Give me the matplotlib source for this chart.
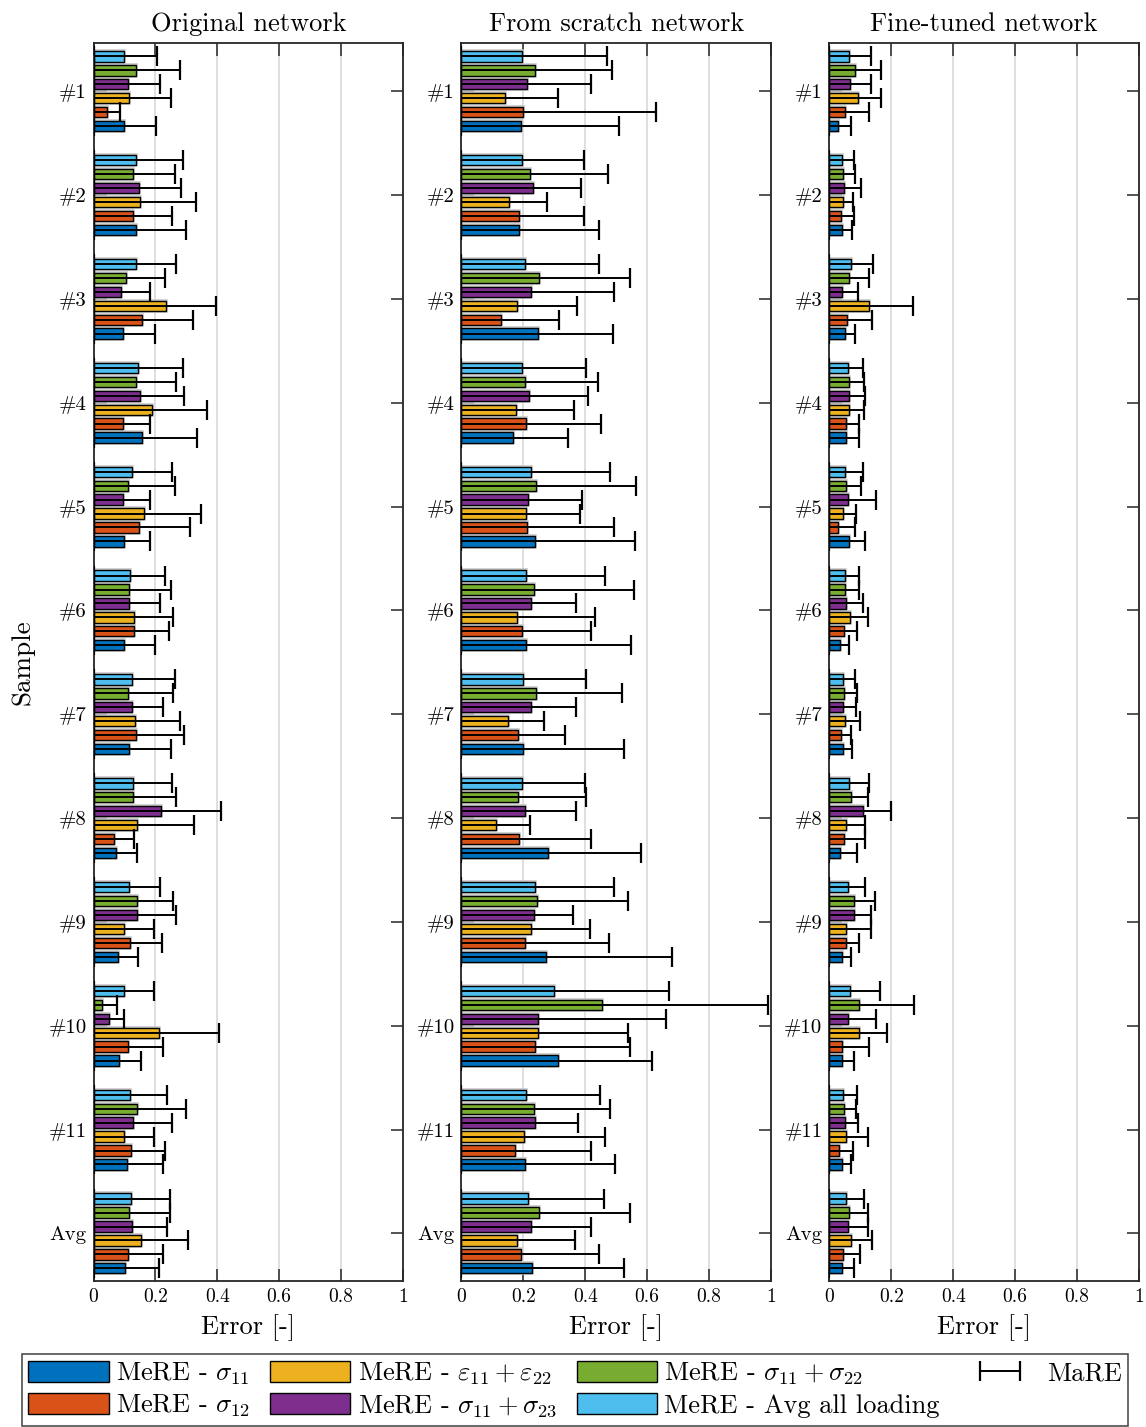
import numpy as np
import matplotlib
import matplotlib.pyplot as plt
from matplotlib.container import ErrorbarContainer
from matplotlib.legend_handler import HandlerErrorbar

plt.rcParams['font.family'] = 'serif'
plt.rcParams['font.serif'] = ['cmr10']
plt.rcParams['mathtext.fontset'] = 'cm'
plt.rcParams['axes.formatter.use_mathtext'] = True

samples = ['#1', '#2', '#3', '#4', '#5', '#6', '#7', '#8', '#9', '#10', '#11', 'Avg']
titles = ['Original network', 'From scratch network', 'Fine-tuned network']
series = [r'MeRE - $\sigma_{11}$', r'MeRE - $\sigma_{12}$',
          r'MeRE - $\varepsilon_{11}+\varepsilon_{22}$', r'MeRE - $\sigma_{11}+\sigma_{23}$',
          r'MeRE - $\sigma_{11}+\sigma_{22}$', 'MeRE - Avg all loading']
colors = ['#0072BD', '#D95319', '#EDB120', '#7E2F8E', '#77AC30', '#4DBEEE']

# mean relative error, one row per loading case, one column per sample
mere_orig = np.array([
    [0.097, 0.138, 0.095, 0.156, 0.097, 0.098, 0.116, 0.073, 0.079, 0.081, 0.108, 0.103],
    [0.044, 0.127, 0.157, 0.095, 0.146, 0.131, 0.137, 0.066, 0.117, 0.111, 0.120, 0.113],
    [0.115, 0.151, 0.233, 0.188, 0.162, 0.131, 0.135, 0.142, 0.100, 0.212, 0.098, 0.152],
    [0.111, 0.146, 0.088, 0.149, 0.095, 0.116, 0.124, 0.218, 0.139, 0.051, 0.128, 0.124],
    [0.138, 0.126, 0.104, 0.138, 0.113, 0.116, 0.111, 0.128, 0.139, 0.028, 0.140, 0.116],
    [0.100, 0.138, 0.136, 0.145, 0.123, 0.118, 0.125, 0.126, 0.114, 0.097, 0.118, 0.122],
])
mare_orig = np.array([
    [0.203, 0.300, 0.199, 0.334, 0.182, 0.200, 0.249, 0.141, 0.145, 0.152, 0.223, 0.213],
    [0.086, 0.255, 0.323, 0.184, 0.313, 0.243, 0.291, 0.132, 0.220, 0.223, 0.232, 0.226],
    [0.249, 0.330, 0.397, 0.368, 0.346, 0.258, 0.281, 0.326, 0.194, 0.407, 0.194, 0.305],
    [0.216, 0.283, 0.181, 0.291, 0.181, 0.214, 0.226, 0.412, 0.265, 0.100, 0.255, 0.238],
    [0.278, 0.264, 0.232, 0.268, 0.262, 0.249, 0.258, 0.265, 0.258, 0.076, 0.300, 0.246],
    [0.206, 0.288, 0.265, 0.288, 0.255, 0.232, 0.262, 0.255, 0.216, 0.194, 0.239, 0.246],
])

mere_scratch = np.array([
    [0.192, 0.187, 0.248, 0.168, 0.237, 0.210, 0.200, 0.280, 0.274, 0.312, 0.205, 0.228],
    [0.198, 0.187, 0.128, 0.208, 0.212, 0.195, 0.184, 0.187, 0.205, 0.239, 0.174, 0.192],
    [0.139, 0.152, 0.179, 0.176, 0.208, 0.179, 0.150, 0.112, 0.225, 0.248, 0.201, 0.179],
    [0.212, 0.231, 0.224, 0.219, 0.215, 0.226, 0.226, 0.206, 0.234, 0.248, 0.236, 0.225],
    [0.236, 0.221, 0.251, 0.204, 0.241, 0.235, 0.241, 0.182, 0.243, 0.454, 0.235, 0.250],
    [0.196, 0.196, 0.205, 0.196, 0.223, 0.209, 0.200, 0.194, 0.236, 0.299, 0.210, 0.214],
])
mare_scratch = np.array([
    [0.509, 0.444, 0.490, 0.344, 0.561, 0.547, 0.525, 0.579, 0.681, 0.616, 0.496, 0.525],
    [0.629, 0.396, 0.315, 0.450, 0.493, 0.418, 0.334, 0.418, 0.477, 0.545, 0.418, 0.444],
    [0.311, 0.276, 0.374, 0.363, 0.383, 0.431, 0.268, 0.221, 0.415, 0.538, 0.464, 0.366],
    [0.418, 0.386, 0.493, 0.409, 0.389, 0.369, 0.369, 0.369, 0.360, 0.661, 0.376, 0.418],
    [0.486, 0.472, 0.545, 0.441, 0.563, 0.558, 0.518, 0.402, 0.538, 0.989, 0.480, 0.545],
    [0.470, 0.396, 0.444, 0.402, 0.480, 0.464, 0.402, 0.399, 0.493, 0.670, 0.448, 0.461],
])

mere_tuned = np.array([
    [0.029, 0.039, 0.050, 0.052, 0.062, 0.035, 0.043, 0.033, 0.040, 0.040, 0.041, 0.042],
    [0.049, 0.036, 0.057, 0.055, 0.028, 0.046, 0.036, 0.046, 0.052, 0.040, 0.030, 0.045],
    [0.093, 0.043, 0.128, 0.062, 0.043, 0.066, 0.050, 0.053, 0.055, 0.095, 0.055, 0.068],
    [0.065, 0.046, 0.042, 0.062, 0.060, 0.052, 0.045, 0.107, 0.078, 0.059, 0.049, 0.061],
    [0.082, 0.043, 0.064, 0.062, 0.053, 0.049, 0.046, 0.071, 0.078, 0.097, 0.046, 0.063],
    [0.064, 0.041, 0.068, 0.060, 0.049, 0.049, 0.045, 0.062, 0.061, 0.065, 0.045, 0.055],
])
mare_tuned = np.array([
    [0.071, 0.074, 0.084, 0.097, 0.116, 0.064, 0.074, 0.090, 0.071, 0.080, 0.071, 0.080],
    [0.127, 0.080, 0.136, 0.097, 0.084, 0.090, 0.071, 0.116, 0.095, 0.127, 0.077, 0.100],
    [0.168, 0.076, 0.270, 0.113, 0.087, 0.126, 0.100, 0.116, 0.133, 0.186, 0.123, 0.136],
    [0.133, 0.101, 0.091, 0.116, 0.149, 0.107, 0.086, 0.200, 0.133, 0.149, 0.093, 0.123],
    [0.165, 0.082, 0.127, 0.110, 0.101, 0.095, 0.090, 0.123, 0.146, 0.274, 0.087, 0.126],
    [0.133, 0.079, 0.142, 0.107, 0.107, 0.097, 0.083, 0.129, 0.116, 0.162, 0.090, 0.113],
])

panels = [(mere_orig, mare_orig), (mere_scratch, mare_scratch), (mere_tuned, mare_tuned)]

fig = plt.figure(figsize=(11.46, 14.27), dpi=100)
lefts = [0.0816, 0.4027, 0.7238]
ypos = np.arange(1, len(samples) + 1)
offsets = np.array([2.5, 1.5, 0.5, -0.5, -1.5, -2.5]) * 0.134
bar_h = 0.10

for p, (mere, mare) in enumerate(panels):
    ax = fig.add_axes([lefts[p], 0.1020, 0.2701, 0.8677])
    for k in range(6):
        y = ypos + offsets[k]
        # soft light halo around each bar
        ax.barh(y, mere[k], height=bar_h, color='none', edgecolor='#c8c8c8',
                linewidth=2.6, zorder=2)
        ax.barh(y, mere[k], height=bar_h, color=colors[k], edgecolor='black',
                linewidth=1.0, zorder=3, label=series[k])
        ax.errorbar(mere[k], y, xerr=[mere[k], mare[k] - mere[k]], fmt='none',
                    ecolor='black', elinewidth=1.4, capsize=7, capthick=1.6,
                    zorder=4, label='MaRE')
    ax.set_xlim(0, 1)
    ax.set_ylim(12 + 0.462, 1 - 0.462)
    ax.set_xticks([0, 0.2, 0.4, 0.6, 0.8, 1])
    ax.set_xticklabels(['0', '0.2', '0.4', '0.6', '0.8', '1'])
    ax.set_yticks(ypos)
    ax.set_yticklabels(samples)
    ax.tick_params(axis='both', direction='in', length=9, width=1.1, color='#262626',
                   top=True, right=True, labelsize=14, pad=5)
    ax.tick_params(axis='y', labelsize=15)
    ax.xaxis.grid(True, color='#dcdcdc', linewidth=1.3)
    ax.set_axisbelow(True)
    for s in ax.spines.values():
        s.set_linewidth(1.3)
        s.set_color('#262626')
    ax.set_title(titles[p], fontsize=19, pad=9)
    ax.set_xlabel('Error [-]', fontsize=19, labelpad=6)
    if p == 0:
        ax.set_ylabel('Sample', fontsize=19.5, labelpad=10)
        handles, labels = ax.get_legend_handles_labels()

bars = [h for h in handles if not isinstance(h, ErrorbarContainer)]
errs = [h for h in handles if isinstance(h, ErrorbarContainer)]
leg = fig.legend(bars + [errs[0]], series + ['MaRE'], ncol=4, loc='lower left',
                 bbox_to_anchor=(0.019, 0.0008), bbox_transform=fig.transFigure,
                 borderaxespad=0, fontsize=19, handlelength=3.05, handleheight=0.88,
                 handletextpad=0.27, columnspacing=0.75, labelspacing=0.22,
                 borderpad=0.25, fancybox=False, framealpha=1, edgecolor='#404040',
                 handler_map={ErrorbarContainer: HandlerErrorbar(xerr_size=0.76)})
leg.get_frame().set_linewidth(1.1)

fig.savefig('out.png', dpi=100)
